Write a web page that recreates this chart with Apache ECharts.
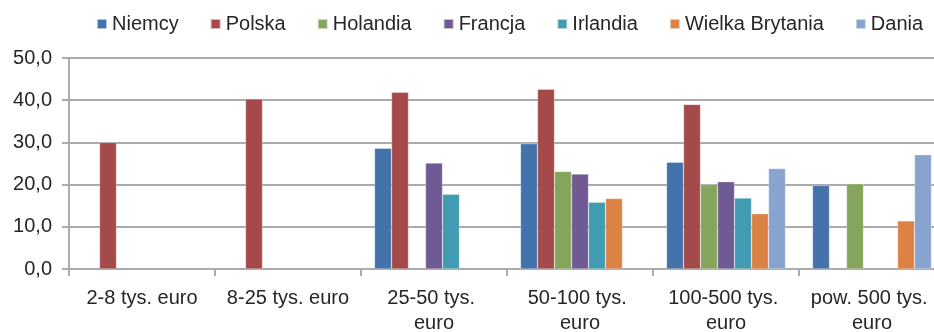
<!DOCTYPE html>
<html>
<head>
<meta charset="utf-8">
<script src="https://cdn.jsdelivr.net/npm/echarts@6/dist/echarts.min.js"></script>
<style>
  html, body { margin: 0; padding: 0; background: #fff; }
  #chart { width: 934px; height: 332px; }
</style>
</head>
<body>
<div id="chart"></div>
<script>
const categories = ['2-8 tys. euro', '8-25 tys. euro', '25-50 tys. euro', '50-100 tys. euro', '100-500 tys. euro', 'pow. 500 tys. euro']
const seriesNames = ['Niemcy', 'Polska', 'Holandia', 'Francja', 'Irlandia', 'Wielka Brytania', 'Dania']
const niemcy = [null, null, 28.6, 29.7, 25.3, 19.8]
const polska = [30.0, 40.3, 41.9, 42.6, 39.0, null]
const holandia = [null, null, null, 23.1, 20.0, 20.2]
const francja = [null, null, 25.1, 22.5, 20.7, null]
const irlandia = [null, null, 17.7, 15.8, 16.8, null]
const wielkaBrytania = [null, null, null, 16.7, 13.1, 11.4]
const dania = [null, null, null, null, 23.8, 27.1]
const yTicks = [0, 10, 20, 30, 40, 50]

const values = [niemcy, polska, holandia, francja, irlandia, wielkaBrytania, dania]
const colors = ['#4472AA', '#A54A4A', '#84A55B', '#705A93', '#419BB2', '#DC8244', '#88A4CE']
const font = '"Liberation Sans", Arial, sans-serif'
const gridColor = '#ABABAF'

const chart = echarts.init(document.getElementById('chart'))
chart.setOption({
  animation: false,
  textStyle: { fontFamily: font },
  legend: {
    data: seriesNames,
    left: 91,
    top: 9,
    width: 900,
    itemWidth: 10,
    itemHeight: 10,
    itemGap: 31,
    icon: 'rect',
    textStyle: { fontSize: 20, color: '#262626', fontFamily: font },
  },
  grid: { left: 69, top: 58, width: 876, height: 211, outerBoundsMode: 'none' },
  xAxis: {
    type: 'category',
    data: categories,
    axisLine: { lineStyle: { color: gridColor, width: 2 } },
    axisTick: { show: true, length: 7, interval: 0, lineStyle: { color: gridColor, width: 2 } },
    axisLabel: {
      interval: 0,
      margin: 17,
      fontSize: 20,
      lineHeight: 25,
      color: '#262626',
      width: 128,
      overflow: 'break',
    },
  },
  yAxis: {
    type: 'value',
    min: yTicks[0],
    max: yTicks[yTicks.length - 1],
    interval: 10,
    axisLine: { show: true, lineStyle: { color: gridColor, width: 2 } },
    axisTick: { show: true, length: 7, lineStyle: { color: gridColor, width: 2 } },
    splitLine: { lineStyle: { color: gridColor, width: 2 } },
    axisLabel: {
      margin: 17,
      fontSize: 20,
      color: '#262626',
      formatter: (v) => v.toFixed(1).replace('.', ','),
    },
  },
  series: seriesNames.map((name, i) => ({
    name,
    type: 'bar',
    data: values[i],
    barWidth: 17,
    barGap: '0%',
    itemStyle: { color: colors[i], borderColor: 'rgba(255,255,255,0.6)', borderWidth: 0.5 },
  })),
})
</script>
</body>
</html>
